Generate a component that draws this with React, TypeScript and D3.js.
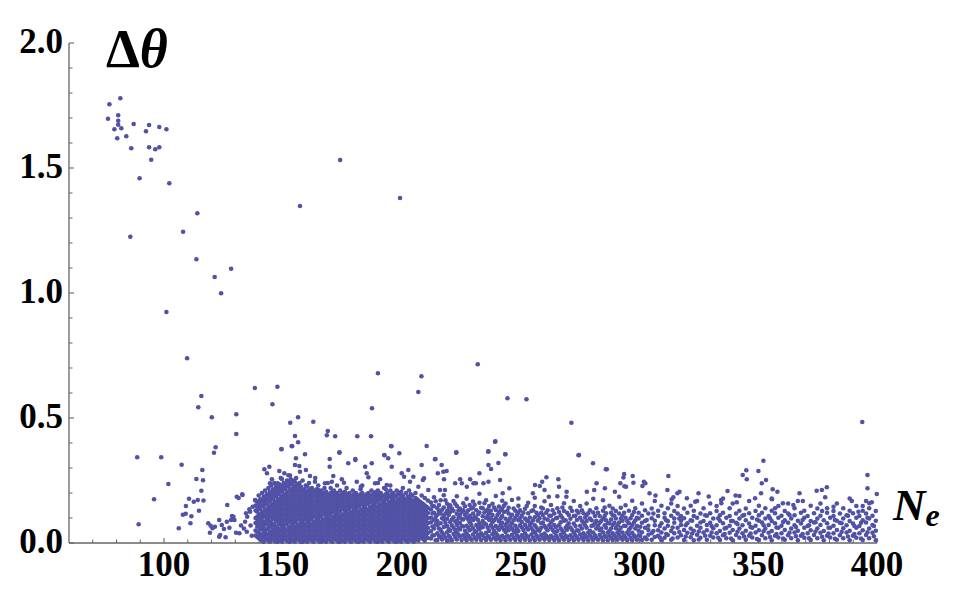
import React from "react";
import * as d3 from "d3";

// scattered points
const topPoints: [number, number][] = [
  [77.0, 1.755], [81.6, 1.779], [76.4, 1.697], [80.7, 1.711], [80.7, 1.689], [80.7, 1.673],
  [82.0, 1.659], [79.1, 1.655], [80.3, 1.619], [84.1, 1.627], [87.2, 1.676], [86.2, 1.579],
  [92.4, 1.647], [93.7, 1.672], [98.0, 1.664], [101.0, 1.655], [93.7, 1.583], [96.3, 1.575],
  [98.0, 1.583], [94.6, 1.533], [89.7, 1.459], [102.2, 1.439], [157.2, 1.348], [114.0, 1.319],
  [108.0, 1.245], [85.8, 1.225], [113.6, 1.135], [128.2, 1.097], [121.3, 1.064], [174.1, 1.532],
  [199.3, 1.38],
];

const midPoints: [number, number][] = [
  [124.0, 0.999], [101.0, 0.924], [109.7, 0.739], [138.2, 0.62], [147.7, 0.625], [115.7, 0.588],
  [114.4, 0.543], [145.6, 0.555], [120.1, 0.503], [130.4, 0.515], [153.1, 0.481], [156.4, 0.503],
  [162.8, 0.485], [130.4, 0.436], [155.1, 0.428], [156.4, 0.403], [153.9, 0.387], [121.7, 0.383],
  [149.4, 0.376], [190.0, 0.679], [208.3, 0.667], [232.0, 0.715], [207.0, 0.604], [244.5, 0.579],
  [252.5, 0.575], [187.5, 0.539], [271.4, 0.481], [168.9, 0.448], [168.5, 0.431], [172.0, 0.427],
  [181.3, 0.427], [187.1, 0.427], [195.7, 0.387], [210.5, 0.388], [239.4, 0.407], [236.5, 0.367],
  [223.0, 0.363], [243.6, 0.355], [274.4, 0.351], [159.3, 0.355], [173.8, 0.363], [192.7, 0.351],
  [194.3, 0.339], [199.0, 0.359], [180.5, 0.336], [169.7, 0.336], [214.2, 0.336], [393.8, 0.484],
  [88.7, 0.343], [98.8, 0.343], [107.4, 0.313], [121.0, 0.361], [352.2, 0.329], [286.3, 0.295],
];

const lowLeftPoints: [number, number][] = [
  [101.8, 0.236], [95.8, 0.175], [89.3, 0.075], [106.2, 0.059], [116.1, 0.292], [113.6, 0.256],
  [116.4, 0.251], [115.7, 0.209], [110.5, 0.177], [112.5, 0.165], [114.2, 0.172], [116.6, 0.17],
  [109.2, 0.148], [107.9, 0.113], [109.1, 0.117], [111.5, 0.107], [114.7, 0.129], [111.1, 0.079],
  [118.6, 0.079], [119.6, 0.069], [121.4, 0.065], [123.2, 0.092], [124.3, 0.072], [125.2, 0.056],
  [126.4, 0.085], [128.2, 0.092], [129.2, 0.105], [119.3, 0.041], [123.6, 0.032], [125.9, 0.023],
  [126.6, 0.152], [130.6, 0.185], [133.0, 0.192], [131.7, 0.039], [134.1, 0.085], [135.0, 0.105],
  [136.2, 0.125], [137.3, 0.145], [138.3, 0.172], [134.8, 0.045], [136.9, 0.029], [131.4, 0.18],
  [132.9, 0.195], [128.6, 0.108], [129.6, 0.092], [130.3, 0.041], [134.5, 0.119], [135.9, 0.135],
  [120.4, 0.059], [123.2, 0.025], [132.4, 0.07], [133.6, 0.058], [127.5, 0.061], [136.4, 0.07],
];

const upperScatter: [number, number][] = [
  [142.2, 0.295], [143.3, 0.279], [144.3, 0.305], [145.4, 0.255], [149.4, 0.375], [153.7, 0.388],
  [155.5, 0.339], [155.1, 0.312], [156.9, 0.308], [157.2, 0.285], [150.6, 0.279], [152.3, 0.271],
  [153.3, 0.255], [148.5, 0.288], [149.6, 0.256], [147.8, 0.239], [144.6, 0.239], [159.7, 0.292],
  [161.4, 0.268], [163.5, 0.245], [164.9, 0.212], [165.6, 0.201], [167.7, 0.239], [169.7, 0.305],
  [173.8, 0.361], [171.2, 0.268], [170.6, 0.245], [174.8, 0.255], [175.7, 0.241], [177.5, 0.319],
  [180.5, 0.332], [181.1, 0.245], [182.8, 0.225], [185.3, 0.279], [186.0, 0.263], [187.4, 0.319],
  [184.6, 0.305], [188.8, 0.239], [190.9, 0.255], [192.7, 0.352], [195.5, 0.388], [195.8, 0.305],
  [193.7, 0.232], [200.0, 0.279], [201.0, 0.265], [202.8, 0.292], [203.5, 0.245], [204.9, 0.265],
  [207.0, 0.225], [208.4, 0.312], [208.9, 0.252], [211.2, 0.212], [209.4, 0.259], [214.0, 0.335],
  [215.2, 0.279], [216.8, 0.312], [217.5, 0.285], [218.9, 0.288], [217.8, 0.255], [216.1, 0.212],
  [218.2, 0.212], [222.9, 0.361], [222.5, 0.239], [224.6, 0.255], [225.3, 0.239], [227.4, 0.225],
  [228.8, 0.255], [230.2, 0.239], [231.2, 0.239], [232.7, 0.279], [234.4, 0.239], [236.4, 0.365],
  [236.5, 0.312], [237.6, 0.296], [236.5, 0.245], [239.3, 0.405], [240.7, 0.32], [241.4, 0.252],
  [243.6, 0.355], [245.3, 0.219], [242.5, 0.199], [255.2, 0.199], [256.1, 0.232], [258.1, 0.228],
  [259.1, 0.245], [260.1, 0.212], [260.9, 0.263], [261.9, 0.185], [265.9, 0.255], [266.2, 0.225],
  [269.4, 0.205], [269.3, 0.185], [274.6, 0.352], [277.9, 0.205], [280.5, 0.319], [281.0, 0.212],
  [282.0, 0.239], [285.9, 0.295], [285.5, 0.219], [289.7, 0.205], [292.0, 0.239], [293.6, 0.276],
  [294.4, 0.225], [297.2, 0.268], [297.5, 0.241], [301.9, 0.245], [302.5, 0.239], [304.3, 0.199],
  [312.2, 0.268], [311.8, 0.212], [316.0, 0.199], [316.9, 0.205], [314.3, 0.183], [313.6, 0.175],
  [324.9, 0.199], [323.5, 0.165], [320.0, 0.179], [337.1, 0.208], [334.4, 0.172], [334.5, 0.159],
  [341.0, 0.163], [343.5, 0.272], [345.0, 0.291], [345.2, 0.255], [350.1, 0.288], [351.5, 0.239],
  [353.3, 0.252], [351.2, 0.199], [348.7, 0.179], [356.1, 0.215], [358.1, 0.205], [355.8, 0.175],
  [360.4, 0.159], [357.1, 0.139], [367.4, 0.199], [368.8, 0.168], [364.8, 0.152], [374.6, 0.209],
  [376.8, 0.212], [378.9, 0.223], [378.2, 0.183], [381.7, 0.145], [389.4, 0.168], [396.0, 0.272],
  [396.0, 0.219], [396.8, 0.159], [399.9, 0.196], [397.8, 0.163], [394.0, 0.148], [392.2, 0.125],
  [293.3, 0.262], [301.3, 0.228], [293.7, 0.227], [306.8, 0.19], [329.2, 0.186], [340.5, 0.19],
];

// the dense cluster, estimated as columns: [N_e, [Δθ values]]
const blobColumns: [number, number[]][] = [
  [138.5, [.03, .05, .08, .10, .13, .15, .17]],
  [139.8, [.02, .04, .07, .09, .11, .14, .16, .19]],
  [141.2, [.01, .03, .06, .08, .10, .12, .15, .17, .20]],
  [142.5, [.02, .04, .05, .08, .11, .13, .16, .18, .21]],
  [143.9, [.01, .03, .06, .09, .10, .12, .14, .17, .19, .22]],
  [145.1, [.02, .04, .07, .08, .11, .13, .15, .18, .20, .23]],
  [146.4, [.01, .03, .05, .07, .10, .12, .14, .16, .19, .21, .24]],
  [147.8, [.005, .02, .04, .06, .09, .11, .13, .15, .17, .20, .22]],
  [149.1, [.01, .03, .05, .08, .10, .12, .14, .16, .18, .21, .23, .26]],
  [150.3, [.02, .04, .06, .07, .09, .11, .13, .15, .17, .19, .22, .24]],
  [151.7, [.01, .03, .05, .08, .10, .12, .14, .16, .18, .20, .23, .25]],
  [153.0, [.005, .02, .04, .06, .09, .11, .13, .15, .17, .19, .21, .24, .27]],
  [154.4, [.01, .03, .05, .07, .08, .10, .12, .14, .16, .18, .20, .22, .25]],
  [155.6, [.02, .04, .06, .09, .11, .13, .15, .17, .19, .21, .23, .26]],
  [157.0, [.01, .03, .05, .07, .10, .12, .14, .16, .18, .20, .22, .24]],
  [158.3, [.005, .02, .04, .06, .08, .09, .11, .13, .15, .17, .19, .21, .25]],
  [159.6, [.01, .03, .05, .07, .10, .12, .14, .16, .18, .20, .23]],
  [161.0, [.02, .04, .06, .08, .09, .11, .13, .15, .17, .19, .21, .24]],
  [162.2, [.01, .03, .05, .07, .10, .12, .14, .16, .18, .20, .22]],
  [163.6, [.02, .04, .06, .08, .11, .13, .15, .17, .19, .21, .26]],
  [164.9, [.01, .03, .05, .07, .09, .10, .12, .14, .16, .18, .20, .23]],
  [166.2, [.005, .02, .04, .06, .08, .11, .13, .15, .17, .19, .21]],
  [167.5, [.01, .03, .05, .07, .09, .12, .14, .16, .18, .20, .22]],
  [168.9, [.02, .04, .06, .08, .10, .11, .13, .15, .17, .19, .24]],
  [170.1, [.01, .03, .05, .07, .09, .12, .14, .16, .18, .20, .22]],
  [171.5, [.02, .04, .06, .08, .10, .13, .15, .17, .19, .21]],
  [172.8, [.01, .03, .05, .07, .09, .11, .12, .14, .16, .18, .20, .23]],
  [174.1, [.005, .02, .04, .06, .08, .10, .13, .15, .17, .19, .21]],
  [175.4, [.01, .03, .05, .07, .09, .11, .14, .16, .18, .20]],
  [176.8, [.02, .04, .06, .08, .10, .12, .13, .15, .17, .19, .22]],
  [178.0, [.01, .03, .05, .07, .09, .11, .14, .16, .18, .20]],
  [179.4, [.02, .04, .06, .08, .10, .12, .15, .17, .19, .21]],
  [180.7, [.01, .03, .05, .07, .09, .11, .13, .14, .16, .18, .20]],
  [182.0, [.005, .02, .04, .06, .08, .10, .12, .15, .17, .19]],
  [183.4, [.01, .03, .05, .07, .09, .11, .13, .16, .18, .20, .23]],
  [184.6, [.02, .04, .06, .08, .10, .12, .14, .15, .17, .19]],
  [186.0, [.01, .03, .05, .07, .09, .11, .13, .16, .18, .20]],
  [187.3, [.02, .04, .06, .08, .10, .12, .14, .17, .19, .21]],
  [188.6, [.01, .03, .05, .07, .09, .11, .13, .15, .16, .18, .20]],
  [190.0, [.005, .02, .04, .06, .08, .10, .12, .14, .17, .19, .21, .24]],
  [191.2, [.01, .03, .05, .07, .09, .11, .13, .15, .18, .20]],
  [192.6, [.02, .04, .06, .08, .10, .12, .14, .16, .17, .19, .22]],
  [193.9, [.01, .03, .05, .07, .09, .11, .13, .15, .18, .20]],
  [195.2, [.02, .04, .06, .08, .10, .12, .14, .16, .19, .21, .23]],
  [196.5, [.01, .03, .05, .07, .09, .11, .13, .15, .17, .18, .20]],
  [197.9, [.005, .02, .04, .06, .08, .10, .12, .14, .16, .19, .21]],
  [199.1, [.01, .03, .05, .07, .09, .11, .13, .15, .17, .20]],
  [200.5, [.02, .04, .06, .08, .10, .12, .14, .16, .18, .19, .22]],
  [201.8, [.01, .03, .05, .07, .09, .11, .13, .15, .17, .20]],
  [203.1, [.02, .04, .06, .08, .10, .12, .14, .16, .18, .21]],
  [204.4, [.01, .03, .05, .07, .09, .11, .13, .15, .17, .19]],
  [205.8, [.02, .04, .06, .08, .10, .12, .14, .16, .18, .20]],
  [207.0, [.01, .03, .05, .07, .09, .11, .13, .15, .17]],
  [208.4, [.02, .04, .06, .08, .10, .12, .14, .16, .19]],
  [209.7, [.01, .03, .05, .07, .09, .11, .13, .15, .18]],
  [211.0, [.02, .04, .06, .08, .10, .12, .14, .17]],
];

// second pass over the cluster, points lying between the first set
const blobFill: [number, number[]][] = [
  [139.2, [.025, .045, .065, .085, .105, .125, .145, .165]],
  [140.5, [.015, .035, .055, .075, .095, .115, .135, .155, .175]],
  [141.9, [.005, .025, .045, .065, .085, .105, .125, .145, .165, .185]],
  [143.2, [.015, .035, .055, .075, .095, .115, .135, .155, .175, .195]],
  [144.5, [.005, .025, .045, .065, .085, .105, .125, .145, .165, .185, .205]],
  [145.8, [.015, .035, .055, .075, .095, .115, .135, .155, .175, .195, .215]],
  [147.1, [.005, .025, .045, .065, .085, .105, .125, .145, .165, .185, .205, .225]],
  [148.4, [.015, .035, .055, .075, .095, .115, .135, .155, .175, .195, .215, .235]],
  [149.7, [.005, .025, .045, .065, .085, .105, .125, .145, .165, .185, .205, .225]],
  [151.0, [.015, .035, .055, .075, .095, .115, .135, .155, .175, .195, .215, .235]],
  [152.4, [.005, .025, .045, .065, .085, .105, .125, .145, .165, .185, .205, .225, .245]],
  [153.7, [.015, .035, .055, .075, .095, .115, .135, .155, .175, .195, .215, .235]],
  [155.0, [.005, .025, .045, .065, .085, .105, .125, .145, .165, .185, .205, .225, .245]],
  [156.3, [.015, .035, .055, .075, .095, .115, .135, .155, .175, .195, .215, .235]],
  [157.6, [.005, .025, .045, .065, .085, .105, .125, .145, .165, .185, .205, .225]],
  [159.0, [.015, .035, .055, .075, .095, .115, .135, .155, .175, .195, .215]],
  [160.3, [.005, .025, .045, .065, .085, .105, .125, .145, .165, .185, .205, .225]],
  [161.6, [.015, .035, .055, .075, .095, .115, .135, .155, .175, .195, .215]],
  [162.9, [.005, .025, .045, .065, .085, .105, .125, .145, .165, .185, .205]],
  [164.2, [.015, .035, .055, .075, .095, .115, .135, .155, .175, .195, .215]],
  [165.5, [.005, .025, .045, .065, .085, .105, .125, .145, .165, .185, .205]],
  [166.8, [.015, .035, .055, .075, .095, .115, .135, .155, .175, .195]],
  [168.2, [.005, .025, .045, .065, .085, .105, .125, .145, .165, .185, .205]],
  [169.5, [.015, .035, .055, .075, .095, .115, .135, .155, .175, .195]],
  [170.8, [.005, .025, .045, .065, .085, .105, .125, .145, .165, .185, .205]],
  [172.1, [.015, .035, .055, .075, .095, .115, .135, .155, .175, .195]],
  [173.4, [.005, .025, .045, .065, .085, .105, .125, .145, .165, .185]],
  [174.7, [.015, .035, .055, .075, .095, .115, .135, .155, .175, .195]],
  [176.1, [.005, .025, .045, .065, .085, .105, .125, .145, .165, .185, .205]],
  [177.4, [.015, .035, .055, .075, .095, .115, .135, .155, .175, .195]],
  [178.7, [.005, .025, .045, .065, .085, .105, .125, .145, .165, .185]],
  [180.0, [.015, .035, .055, .075, .095, .115, .135, .155, .175, .195]],
  [181.4, [.005, .025, .045, .065, .085, .105, .125, .145, .165, .185]],
  [182.7, [.015, .035, .055, .075, .095, .115, .135, .155, .175, .195, .215]],
  [184.0, [.005, .025, .045, .065, .085, .105, .125, .145, .165, .185]],
  [185.3, [.015, .035, .055, .075, .095, .115, .135, .155, .175, .195]],
  [186.7, [.005, .025, .045, .065, .085, .105, .125, .145, .165, .185]],
  [188.0, [.015, .035, .055, .075, .095, .115, .135, .155, .175, .195]],
  [189.3, [.005, .025, .045, .065, .085, .105, .125, .145, .165, .185, .205]],
  [190.6, [.015, .035, .055, .075, .095, .115, .135, .155, .175, .195]],
  [191.9, [.005, .025, .045, .065, .085, .105, .125, .145, .165, .185]],
  [193.3, [.015, .035, .055, .075, .095, .115, .135, .155, .175, .195, .215]],
  [194.6, [.005, .025, .045, .065, .085, .105, .125, .145, .165, .185]],
  [195.9, [.015, .035, .055, .075, .095, .115, .135, .155, .175, .195]],
  [197.2, [.005, .025, .045, .065, .085, .105, .125, .145, .165, .185]],
  [198.5, [.015, .035, .055, .075, .095, .115, .135, .155, .175, .195]],
  [199.8, [.005, .025, .045, .065, .085, .105, .125, .145, .165, .185, .205]],
  [201.2, [.015, .035, .055, .075, .095, .115, .135, .155, .175]],
  [202.5, [.005, .025, .045, .065, .085, .105, .125, .145, .165, .185]],
  [203.8, [.015, .035, .055, .075, .095, .115, .135, .155, .175, .195]],
  [205.1, [.005, .025, .045, .065, .085, .105, .125, .145, .165]],
  [206.4, [.015, .035, .055, .075, .095, .115, .135, .155, .175]],
  [207.7, [.025, .045, .065, .085, .105, .125, .145, .165]],
  [209.1, [.015, .035, .055, .075, .095, .115, .135, .155]],
  [210.4, [.025, .045, .065, .085, .105, .125, .145]],
];

// the long low band to the right of the cluster
const bandColumns: [number, number[]][] = [
  [212.3, [.018, .047, .083, .101, .134, .162]],
  [213.6, [.031, .058, .092, .121, .147, .183]],
  [215.0, [.012, .039, .071, .088, .113, .139]],
  [216.4, [.024, .052, .079, .118, .171]],
  [217.7, [.033, .064, .094, .108, .142, .191]],
  [219.1, [.009, .043, .068, .097, .128, .157]],
  [220.4, [.021, .049, .084, .124, .151]],
  [221.8, [.036, .061, .103, .129, .168]],
  [223.2, [.014, .042, .073, .089, .117, .148, .187]],
  [224.5, [.026, .054, .081, .112, .138]],
  [225.9, [.031, .066, .094, .131, .159]],
  [227.3, [.011, .038, .069, .102, .121, .177]],
  [228.6, [.022, .051, .083, .109, .152]],
  [230.0, [.034, .059, .091, .118, .141, .166]],
  [231.4, [.013, .044, .072, .098, .131]],
  [232.7, [.024, .055, .079, .122, .161, .197]],
  [234.1, [.032, .063, .088, .107, .139]],
  [235.5, [.012, .041, .074, .101, .128, .171]],
  [236.8, [.023, .048, .092, .119, .148]],
  [238.2, [.035, .061, .083, .112, .157]],
  [239.6, [.014, .039, .068, .099, .132, .188]],
  [240.9, [.021, .053, .087, .121, .146]],
  [242.3, [.029, .062, .081, .108, .138, .169]],
  [243.7, [.011, .044, .072, .097, .158]],
  [245.0, [.024, .051, .089, .118, .141]],
  [246.4, [.033, .058, .079, .113, .172]],
  [247.8, [.012, .042, .069, .101, .129]],
  [249.1, [.022, .048, .091, .121, .149, .178]],
  [250.5, [.031, .063, .084, .109]],
  [251.9, [.013, .039, .073, .098, .137]],
  [253.2, [.024, .054, .087, .119, .161]],
  [254.6, [.034, .059, .081, .128]],
  [256.0, [.011, .043, .071, .103, .148, .181]],
  [257.3, [.022, .052, .089, .112]],
  [258.7, [.032, .061, .079, .121, .142]],
  [260.1, [.014, .038, .068, .098, .167]],
  [261.4, [.023, .051, .093, .131]],
  [262.8, [.029, .062, .082, .109, .152]],
  [264.2, [.012, .044, .072, .118]],
  [265.5, [.021, .048, .101, .139, .187]],
  [266.9, [.033, .058, .083, .111]],
  [268.3, [.013, .041, .089, .128, .159]],
  [269.6, [.024, .053, .069, .121]],
  [271.0, [.031, .062, .097, .141]],
  [272.4, [.011, .042, .078, .108, .168]],
  [273.7, [.022, .051, .092, .129]],
  [275.1, [.034, .069, .101, .148]],
  [276.5, [.012, .039, .081, .119]],
  [277.8, [.023, .061, .088, .112, .158]],
  [279.2, [.031, .049, .098, .131]],
  [280.6, [.013, .042, .071, .122, .177]],
  [281.9, [.021, .058, .089, .139]],
  [283.3, [.033, .052, .081, .108]],
  [284.7, [.011, .043, .098, .129, .171]],
  [286.0, [.024, .061, .091, .119]],
  [287.4, [.029, .048, .079, .149]],
  [288.8, [.012, .039, .072, .111, .138]],
  [290.1, [.022, .059, .098, .128]],
  [291.5, [.032, .051, .082, .118, .185]],
  [292.9, [.013, .042, .089, .109]],
  [294.2, [.021, .068, .101, .151]],
  [295.6, [.034, .053, .079, .129]],
  [297.0, [.011, .041, .072, .112, .169]],
  [298.3, [.023, .058, .091, .139]],
  [299.7, [.031, .049, .098, .121]],
  [301.1, [.012, .043, .081, .109, .158]],
  [302.4, [.022, .061, .088, .131]],
  [303.8, [.033, .052, .069, .118]],
  [305.2, [.013, .039, .099, .138]],
  [306.5, [.024, .071, .089, .168]],
  [307.9, [.029, .051, .108, .129]],
  [309.3, [.011, .042, .079, .149]],
  [310.6, [.021, .058, .101, .119]],
  [312.0, [.032, .069, .088, .139]],
  [313.4, [.013, .048, .109, .158]],
  [314.7, [.039, .081, .098, .128]],
  [316.1, [.022, .061, .118, .148]],
  [317.5, [.031, .072, .089, .108]],
  [318.8, [.012, .052, .099, .138]],
  [320.2, [.041, .079, .121]],
  [321.6, [.023, .058, .091, .149]],
  [322.9, [.011, .049, .108, .129]],
  [324.3, [.033, .069, .101, .168]],
  [325.7, [.021, .061, .082, .118]],
  [327.0, [.042, .088, .139]],
  [328.4, [.013, .051, .072, .109]],
  [329.8, [.029, .081, .119, .158]],
  [331.1, [.022, .059, .098]],
  [332.5, [.039, .071, .128, .148]],
  [333.9, [.012, .048, .089, .111]],
  [335.2, [.031, .079, .121, .178]],
  [336.6, [.019, .061, .101]],
  [338.0, [.041, .069, .108, .139]],
  [339.3, [.011, .052, .088, .158]],
  [340.7, [.032, .081, .118]],
  [342.1, [.021, .058, .098, .129, .188]],
  [343.4, [.039, .071, .109]],
  [344.8, [.013, .049, .091, .138]],
  [346.2, [.029, .078, .119, .168]],
  [347.5, [.022, .061, .101]],
  [348.9, [.042, .069, .128]],
  [350.3, [.012, .051, .089, .111, .149]],
  [351.6, [.031, .082, .121]],
  [353.0, [.019, .058, .098, .139]],
  [354.4, [.041, .072, .108]],
  [355.7, [.011, .048, .088, .129, .178]],
  [357.1, [.029, .079, .119]],
  [358.5, [.022, .061, .101, .148]],
  [359.8, [.039, .069, .109]],
  [361.2, [.013, .052, .091, .128]],
  [362.6, [.031, .081, .118, .158]],
  [363.9, [.019, .058, .098]],
  [365.3, [.042, .071, .111, .139]],
  [366.7, [.011, .049, .089, .168]],
  [368.0, [.029, .078, .121]],
  [369.4, [.021, .061, .101, .129]],
  [370.8, [.039, .068, .108]],
  [372.1, [.012, .051, .088, .149]],
  [373.5, [.032, .082, .119]],
  [374.9, [.019, .058, .098, .138]],
  [376.2, [.041, .072, .109, .158]],
  [377.6, [.011, .048, .091]],
  [379.0, [.029, .079, .121, .139]],
  [380.3, [.022, .061, .101]],
  [381.7, [.039, .069, .108, .128]],
  [383.1, [.013, .052, .089, .158]],
  [384.4, [.031, .081, .118]],
  [385.8, [.019, .059, .098, .139]],
  [387.2, [.042, .071, .111]],
  [388.5, [.011, .049, .088, .129, .178]],
  [389.9, [.029, .078, .119]],
  [391.3, [.021, .061, .101, .148]],
  [392.6, [.039, .068, .108]],
  [394.0, [.012, .051, .091, .129]],
  [395.4, [.032, .082, .118, .168]],
  [396.7, [.019, .058, .098, .139]],
  [398.1, [.041, .072, .109]],
  [399.5, [.011, .049, .089, .128]],
];

// second pass over the band, points lying between the first set
const bandFill: [number, number[]][] = [
  [212.9, [.03, .066, .118, .149]], [214.3, [.011, .075, .104, .167]], [215.7, [.028, .058, .127, .152]],
  [217.0, [.014, .042, .099, .133]], [218.4, [.021, .081, .118, .171]], [219.8, [.029, .056, .112, .141]],
  [221.1, [.011, .071, .094, .138]], [222.5, [.024, .052, .086, .157]], [223.9, [.033, .059, .101, .131]],
  [225.2, [.012, .068, .097, .124]], [226.6, [.021, .049, .113, .147]], [228.0, [.029, .061, .094, .131]],
  [229.3, [.013, .072, .099, .138]], [230.7, [.022, .048, .104, .153]], [232.1, [.031, .062, .092, .115]],
  [233.4, [.012, .039, .068, .141]], [234.8, [.021, .079, .122, .159]], [236.2, [.028, .061, .108, .134]],
  [237.5, [.013, .071, .099, .129]], [238.9, [.022, .048, .091, .142]], [240.3, [.031, .061, .112]],
  [241.6, [.011, .072, .098, .131]], [243.0, [.022, .053, .124, .149]], [244.4, [.029, .061, .081, .128]],
  [245.7, [.013, .069, .101]], [247.1, [.021, .049, .091, .138]], [248.5, [.031, .058, .112]],
  [249.8, [.012, .071, .099, .131]], [251.2, [.022, .052, .121]], [252.6, [.029, .061, .091, .148]],
  [253.9, [.011, .072, .102]], [255.3, [.021, .048, .091, .131]], [256.7, [.031, .062, .121]],
  [258.0, [.013, .049, .099]], [259.4, [.022, .082, .112, .138]], [260.8, [.029, .059, .121]],
  [262.1, [.012, .071, .109]], [263.5, [.021, .052, .091, .131]], [264.9, [.031, .064, .099]],
  [266.2, [.011, .071, .124]], [267.6, [.022, .049, .101, .142]], [269.0, [.029, .061, .091]],
  [270.3, [.012, .079, .112]], [271.7, [.021, .052, .128]], [273.1, [.031, .068, .109]],
  [274.4, [.013, .049, .121]], [275.8, [.022, .058, .089, .131]], [277.2, [.029, .071, .102]],
  [278.5, [.011, .042, .119]], [279.9, [.021, .068, .091]], [281.3, [.031, .079, .108]],
  [282.6, [.013, .069, .121]], [284.0, [.022, .058, .089]], [285.4, [.029, .071, .108, .142]],
  [286.7, [.011, .042, .079]], [288.1, [.021, .058, .094, .121]], [289.5, [.031, .081, .109]],
  [290.8, [.013, .042, .071]], [292.2, [.022, .061, .098, .141]], [293.6, [.029, .069, .121]],
  [294.9, [.011, .042, .088]], [296.3, [.021, .061, .099]], [297.7, [.031, .082, .124]],
  [299.0, [.013, .068, .101]], [300.4, [.028, .065]], [303.1, [.015, .092]], [305.9, [.048, .118]],
  [308.6, [.022, .068]], [311.3, [.036, .091]], [314.0, [.018, .062]], [316.8, [.044, .098]],
  [319.5, [.026, .071]], [322.2, [.038, .089]], [325.0, [.014, .046]], [327.7, [.029, .111]],
  [330.4, [.042, .068]], [333.2, [.021, .099]], [335.9, [.036, .058]], [338.6, [.018, .088]],
  [341.3, [.045, .076]], [344.1, [.026, .112]], [346.8, [.038, .064]], [349.5, [.016, .094]],
  [352.3, [.047, .071]], [355.0, [.024, .099]], [357.7, [.036, .062]], [360.5, [.018, .084]],
  [363.2, [.041, .112]], [365.9, [.027, .064]], [368.7, [.036, .092]], [371.4, [.019, .071]],
  [374.1, [.046, .083]], [376.9, [.025, .128]], [379.6, [.038, .061]], [382.3, [.017, .092]],
  [385.1, [.044, .079]], [387.8, [.026, .109]], [390.5, [.036, .068]], [393.3, [.018, .081]],
  [396.0, [.043, .101]], [398.7, [.027, .068]],
];

const xMajorTicks = [100, 150, 200, 250, 300, 350, 400];
const xTickLabels = ["100", "150", "200", "250", "300", "350", "400"];
const yMajorTicks = [0, 0.5, 1.0, 1.5, 2.0];
const yTickLabels = ["0.0", "0.5", "1.0", "1.5", "2.0"];

const pointColor = "#5151a5";
const axisColor = "#666";
const serif = "'Liberation Serif', 'DejaVu Serif', serif";

const fromColumns = (cols: [number, number[]][]) =>
  cols.flatMap(([nx, ys]) => ys.map(v => [nx, v] as [number, number]));

export default function App() {
  const width = 975;
  const height = 598;

  const x = d3.scaleLinear().domain([60, 400]).range([69, 877]);
  const y = d3.scaleLinear().domain([0, 2]).range([543, 43]);

  const xMinor = d3.range(70, 401, 10).filter(v => !xMajorTicks.includes(v));
  const yMinor = d3.range(1, 20).map(v => v / 10).filter(v => Math.round(v * 10) % 5 !== 0);

  const points: [number, number][] = [
    ...fromColumns(bandColumns),
    ...fromColumns(bandFill),
    ...fromColumns(blobColumns),
    ...fromColumns(blobFill),
    ...lowLeftPoints,
    ...upperScatter,
    ...midPoints,
    ...topPoints,
  ];

  return (
    <svg width={width} height={height} style={{ position: "absolute", left: 0, top: 0, background: "#fff" }}>
      {/* axes */}
      <line x1={x(60)} x2={x(400)} y1={y(0)} y2={y(0)} stroke={axisColor} strokeWidth={1.3} />
      <line x1={x(60)} x2={x(60)} y1={y(0)} y2={y(2)} stroke={axisColor} strokeWidth={1.3} />
      {xMajorTicks.map(t => (
        <line key={"xM" + t} x1={x(t)} x2={x(t)} y1={y(0)} y2={y(0) - 5} stroke={axisColor} strokeWidth={1.1} />
      ))}
      {xMinor.map(t => (
        <line key={"xm" + t} x1={x(t)} x2={x(t)} y1={y(0)} y2={y(0) - 3.5} stroke={axisColor} strokeWidth={1} />
      ))}
      {yMajorTicks.map(t => (
        <line key={"yM" + t} x1={x(60)} x2={x(60) + 5} y1={y(t)} y2={y(t)} stroke={axisColor} strokeWidth={1.1} />
      ))}
      {yMinor.map(t => (
        <line key={"ym" + t} x1={x(60)} x2={x(60) + 3.5} y1={y(t)} y2={y(t)} stroke={axisColor} strokeWidth={1} />
      ))}

      {/* points */}
      {points.map((d, i) => (
        <circle key={i} cx={x(d[0])} cy={y(d[1])} r={2.3} fill={pointColor} />
      ))}

      {/* tick labels */}
      {xMajorTicks.map((t, i) => (
        <text key={"xl" + t} x={x(t)} y={576} textAnchor="middle" fontFamily={serif} fontWeight="bold" fontSize={35} fill="#000">
          {xTickLabels[i]}
        </text>
      ))}
      {yMajorTicks.map((t, i) => (
        <text key={"yl" + t} x={63} y={y(t) + 10} textAnchor="end" fontFamily={serif} fontWeight="bold" fontSize={35} fill="#000">
          {yTickLabels[i]}
        </text>
      ))}

      {/* axis titles */}
      <text x={106} y={67} fontFamily={serif} fontSize={54} fill="#000">
        <tspan fontWeight="bold">Δ</tspan>
        <tspan fontStyle="italic" fontWeight="bold">θ</tspan>
      </text>
      <text x={893} y={520} fontFamily={serif} fontSize={45} fontStyle="italic" fontWeight="bold" fill="#000">
        N<tspan fontSize={32} dy={6}>e</tspan>
      </text>
    </svg>
  );
}
